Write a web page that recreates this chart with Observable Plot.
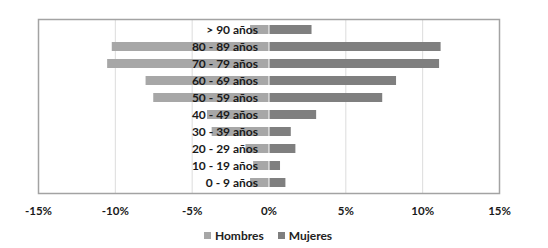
<!DOCTYPE html>
<html>
<head>
<meta charset="utf-8">
<script src="https://cdn.jsdelivr.net/npm/d3@7"></script>
<script src="https://cdn.jsdelivr.net/npm/@observablehq/plot@0.6"></script>
<style>
  html, body { margin: 0; padding: 0; background: #fff; }
  #chart { width: 548px; }
  .legend { display: flex; justify-content: center; align-items: center; gap: 14px; height: 26px;
    font: bold 12px Lato, "Liberation Sans", sans-serif; color: #222; margin-left: -12px; }
  .legend span.sw { display: inline-block; width: 7px; height: 7px; margin-right: 4px; vertical-align: middle; position: relative; top: -1px; }
</style>
</head>
<body>
<div id="chart"></div>
<script>
const ages = ["> 90 años", "80 - 89 años", "70 - 79 años", "60 - 69 años", "50 - 59 años",
              "40 - 49 años", "30 - 39 años", "20 - 29 años", "10 - 19 años", "0 - 9 años"];
const hombres = [1.2, 10.2, 10.5, 8.0, 7.5, 4.0, 3.7, 1.5, 1.0, 1.2];
const mujeres = [2.8, 11.2, 11.1, 8.3, 7.4, 3.1, 1.45, 1.75, 0.75, 1.1];
const xTicks = [-15, -10, -5, 0, 5, 10, 15];
const gridTicks = [-10, -5, 5, 10];
const series = ["Hombres", "Mujeres"];
const colors = ["#a7a7a7", "#7f7f7f"];

const rows = ages.map((a, i) => ({age: a, h: hombres[i], m: mujeres[i]}));

const plot = Plot.plot({
  width: 548,
  height: 222,
  marginLeft: 38,
  marginRight: 49,
  marginTop: 19,
  marginBottom: 29,
  style: {fontFamily: "Lato, 'Liberation Sans', sans-serif", fontSize: "11.5px", color: "#1a1a1a", background: "#fff"},
  x: {domain: [-15, 15], ticks: xTicks, tickFormat: d => d + "%", tickSize: 0, tickPadding: 13, label: null},
  y: {domain: ages, paddingInner: 0.5, paddingOuter: 0.25, axis: null},
  marks: [
    Plot.ruleX(gridTicks, {stroke: "#dcdcdc", strokeWidth: 1}),
    Plot.barX(rows, {y: "age", x1: 0, x2: d => -d.h, fill: colors[0]}),
    Plot.barX(rows, {y: "age", x1: 0, x2: d => d.m, fill: colors[1], insetLeft: 1}),
    Plot.text(rows, {y: "age", x: 0, text: "age", textAnchor: "end", dx: -11, fontSize: 12, fontWeight: "bold", fill: "#1a1a1a"}),
    Plot.frame({stroke: "#a3a3a3", strokeWidth: 1.5}),
    Plot.axisX({ticks: xTicks, tickFormat: d => d + "%", tickSize: 0, tickPadding: 13, fontWeight: "bold", label: null})
  ]
});
plot.querySelectorAll("text").forEach(t => t.style.fontWeight = "bold");
document.getElementById("chart").appendChild(plot);

const legend = document.createElement("div");
legend.className = "legend";
series.forEach((s, i) => {
  const item = document.createElement("div");
  const sw = document.createElement("span");
  sw.className = "sw";
  sw.style.background = colors[i];
  item.appendChild(sw);
  item.appendChild(document.createTextNode(s));
  legend.appendChild(item);
});
document.getElementById("chart").appendChild(legend);
</script>
</body>
</html>
